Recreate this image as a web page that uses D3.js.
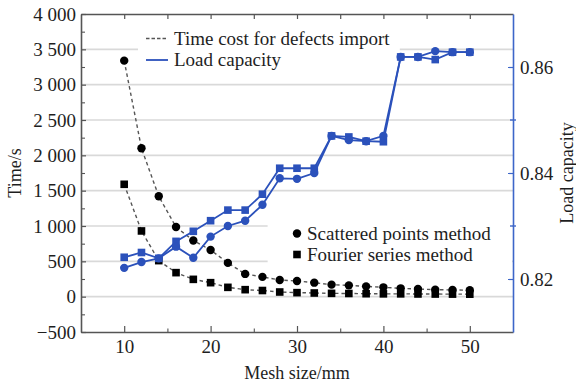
<!DOCTYPE html>
<html>
<head>
<meta charset="utf-8">
<script src="https://cdn.jsdelivr.net/npm/d3@7/dist/d3.min.js"></script>
<style>
  html, body { margin: 0; padding: 0; background: #fff; }
  svg { display: block; font-family: "Liberation Serif", "Times New Roman", serif; }
  svg text { font-family: "Liberation Serif", "Times New Roman", serif !important; }
</style>
</head>
<body>
<svg id="chart" width="576" height="385"></svg>
<script>
// Mesh size (mm) for every computed case
const meshSize = [10, 12, 14, 16, 18, 20, 22, 24, 26, 28, 30, 32, 34, 36, 38, 40, 42, 44, 46, 48, 50];

// Time cost for importing defects (s)
const timeScattered = [3340, 2100, 1420, 985, 795, 660, 478, 322, 280, 236, 222, 198, 170, 160, 146, 132, 118, 108, 100, 95, 92];
const timeFourier   = [1590, 930, 510, 340, 245, 198, 132, 99, 87, 66, 57, 52, 47, 45, 42, 40, 40, 38, 37, 36, 35];

// Load capacity
const loadScattered = [0.8221, 0.8232, 0.8239, 0.8261, 0.8240, 0.8280, 0.8300, 0.8310, 0.8340, 0.8390, 0.8389, 0.8400, 0.8470, 0.8462, 0.8460, 0.8470, 0.8619, 0.8619, 0.8630, 0.8628, 0.8628];
const loadFourier   = [0.8241, 0.8250, 0.8239, 0.8271, 0.8290, 0.8310, 0.8330, 0.8330, 0.8360, 0.8409, 0.8409, 0.8409, 0.8470, 0.8468, 0.8460, 0.8459, 0.8619, 0.8619, 0.8614, 0.8628, 0.8628];

// Axis ticks
const xTicks = [10, 20, 30, 40, 50];
const xTopTicks = [10, 15, 20, 25, 30, 35, 40, 45, 50];
const xMinorTicks = [15, 25, 35, 45];
const timeTicks = [-500, 0, 500, 1000, 1500, 2000, 2500, 3000, 3500, 4000];
const timeMinorTicks = [-250, 250, 750, 1250, 1750, 2250, 2750, 3250, 3750];
const loadTicks = [0.82, 0.84, 0.86];
const loadMinorTicks = [0.83, 0.85];

// Text
const xTitle = "Mesh size/mm";
const yTitle = "Time/s";
const y2Title = "Load capacity";
const legendLines = ["Time cost for defects import", "Load capacity"];
const legendMarkers = ["Scattered points method", "Fourier series method"];

const W = 576, H = 385;
const m = { left: 81, right: 63, top: 14, bottom: 53 };
const iw = W - m.left - m.right, ih = H - m.top - m.bottom;

const serif = '"Liberation Serif", "Times New Roman", serif';
const blue = "#2b51bb";
const axisBlue = "#3d66c9";
const dashGray = "#555";
const ink = "#1e1e1e";

const svg = d3.select("#chart");
const g = svg.append("g").attr("transform", `translate(${m.left},${m.top})`);

const x = d3.scaleLinear().domain([5, 55]).range([0, iw]);
const y = d3.scaleLinear().domain([-500, 4000]).range([ih, 0]);
const y2 = d3.scaleLinear().domain([0.81, 0.87]).range([ih, 0]);

const locale = d3.formatLocale({ decimal: ".", thousands: " ", grouping: [3], currency: ["", ""], minus: "\u2212" });
const fmtTime = locale.format(",");

// Horizontal gridlines
g.append("g")
  .selectAll("line")
  .data(timeTicks.filter(v => v > -500 && v < 4000))
  .join("line")
  .attr("x1", 0).attr("x2", iw)
  .attr("y1", d => y(d)).attr("y2", d => y(d))
  .attr("stroke", "#d9d9d9").attr("stroke-width", 1.6);

// Legend backgrounds sit over the grid
g.append("rect").attr("x", x(11.6)).attr("y", y(3800)).attr("width", x(41.9) - x(11.6)).attr("height", y(3100) - y(3800)).attr("fill", "#fff");
g.append("rect").attr("x", x(26.6)).attr("y", y(1170)).attr("width", iw - x(26.6) - 1).attr("height", y(360) - y(1170)).attr("fill", "#fff");

// Time cost curves (dashed)
const timeLine = (vals) => d3.line().x((d, i) => x(meshSize[i])).y(d => y(d))(vals);
[timeScattered, timeFourier].forEach(vals => {
  g.append("path").attr("d", timeLine(vals))
    .attr("fill", "none").attr("stroke", dashGray).attr("stroke-width", 1.4)
    .attr("stroke-dasharray", "3.5,3");
});

// Load capacity curves (solid blue)
const loadLine = (vals) => d3.line().x((d, i) => x(meshSize[i])).y(d => y2(d))(vals);
[loadScattered, loadFourier].forEach(vals => {
  g.append("path").attr("d", loadLine(vals))
    .attr("fill", "none").attr("stroke", blue).attr("stroke-width", 1.8);
});

// Markers
const circleMarks = (vals, yy, color) => g.append("g").selectAll("circle").data(vals).join("circle")
  .attr("cx", (d, i) => x(meshSize[i])).attr("cy", d => yy(d)).attr("r", 4.2).attr("fill", color);
const squareMarks = (vals, yy, color) => g.append("g").selectAll("rect").data(vals).join("rect")
  .attr("x", (d, i) => x(meshSize[i]) - 3.8).attr("y", d => yy(d) - 3.8)
  .attr("width", 7.6).attr("height", 7.6).attr("fill", color);

circleMarks(timeScattered, y, "#000");
squareMarks(timeFourier, y, "#000");
squareMarks(loadFourier, y2, blue);
circleMarks(loadScattered, y2, blue);

// Axes
function styleAxis(sel, color) {
  sel.attr("font-family", null).attr("font-size", null);
  sel.select(".domain").attr("stroke", color).attr("stroke-width", 1.6);
  sel.selectAll(".tick line").attr("stroke", color).attr("stroke-width", 1.2);
  sel.selectAll(".tick text").attr("fill", ink)
    .style("font-family", serif).style("font-size", "19px");
}

// left: time
g.append("g")
  .call(d3.axisLeft(y).tickValues(timeTicks).tickFormat(fmtTime).tickSize(-5).tickSizeOuter(0).tickPadding(5))
  .call(s => styleAxis(s, "#555"));
g.append("g")
  .call(d3.axisLeft(y).tickValues(timeMinorTicks).tickFormat("").tickSize(-4).tickSizeOuter(0))
  .call(s => { s.select(".domain").remove(); s.selectAll(".tick line").attr("stroke", "#555").attr("stroke-width", 1.1); });

// bottom: mesh size
g.append("g").attr("transform", `translate(0,${ih})`)
  .call(d3.axisBottom(x).tickValues(xTicks).tickSize(-6).tickSizeOuter(0).tickPadding(8))
  .call(s => styleAxis(s, "#555"));
g.append("g").attr("transform", `translate(0,${ih})`)
  .call(d3.axisBottom(x).tickValues(xMinorTicks).tickFormat("").tickSize(-3.5).tickSizeOuter(0))
  .call(s => { s.select(".domain").remove(); s.selectAll(".tick line").attr("stroke", "#555").attr("stroke-width", 1.1); });

// top frame
g.append("g")
  .call(d3.axisTop(x).tickValues(xTopTicks).tickFormat("").tickSize(-5).tickSizeOuter(0))
  .call(s => styleAxis(s, "#555"));

// right: load capacity
g.append("g").attr("transform", `translate(${iw},0)`)
  .call(d3.axisRight(y2).tickValues(loadTicks).tickFormat(d3.format(".2f")).tickSize(-5).tickSizeOuter(0).tickPadding(7))
  .call(s => styleAxis(s, axisBlue));
g.append("g").attr("transform", `translate(${iw},0)`)
  .selectAll("line").data(loadMinorTicks).join("line")
  .attr("x1", -3).attr("x2", 3).attr("y1", d => y2(d)).attr("y2", d => y2(d))
  .attr("stroke", axisBlue).attr("stroke-width", 1.4);

// Axis titles
svg.append("text").attr("x", m.left + iw / 2).attr("y", 379).attr("text-anchor", "middle")
  .style("font-size", "18px").attr("fill", ink).text(xTitle);
svg.append("text").attr("transform", `translate(21,${m.top + ih / 2}) rotate(-90)`).attr("text-anchor", "middle")
  .style("font-size", "18px").attr("fill", ink).text(yTitle);
svg.append("text").attr("transform", `translate(573,${m.top + ih / 2}) rotate(-90)`).attr("text-anchor", "middle")
  .style("font-size", "18px").attr("fill", ink).text(y2Title);

// Legend: line styles
const lg = svg.append("g").attr("transform", "translate(146,0)");
lg.append("line").attr("x1", 0).attr("x2", 22).attr("y1", 38.5).attr("y2", 38.5)
  .attr("stroke", dashGray).attr("stroke-width", 1.6).attr("stroke-dasharray", "3.5,2");
lg.append("line").attr("x1", 0).attr("x2", 22).attr("y1", 60).attr("y2", 60)
  .attr("stroke", blue).attr("stroke-width", 1.8);
lg.selectAll("text").data(legendLines).join("text")
  .attr("x", 28).attr("y", (d, i) => 44.5 + i * 21)
  .style("font-size", "19px").attr("fill", ink).text(d => d);

// Legend: marker shapes
const lm = svg.append("g").attr("transform", "translate(297,0)");
lm.append("circle").attr("cx", 0).attr("cy", 233.5).attr("r", 4.2).attr("fill", "#000");
lm.append("rect").attr("x", -3.8).attr("y", 254.5 - 3.8).attr("width", 7.6).attr("height", 7.6).attr("fill", "#000");
lm.selectAll("text").data(legendMarkers).join("text")
  .attr("x", 10).attr("y", (d, i) => 239.5 + i * 21)
  .style("font-size", "19px").attr("fill", ink).text(d => d);
</script>
</body>
</html>
